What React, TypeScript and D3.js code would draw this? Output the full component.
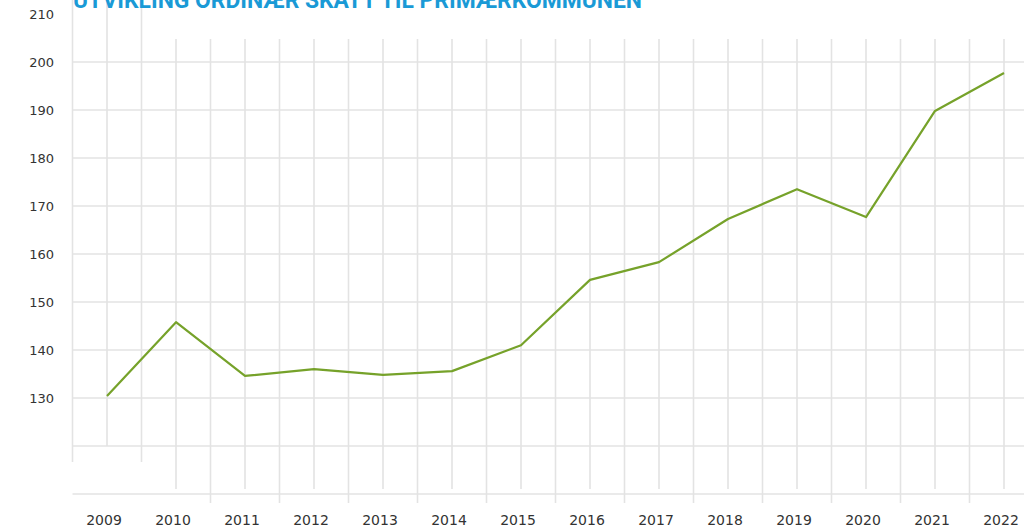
import React, { useEffect, useRef } from "react";
import * as d3 from "d3";

const years = [2009, 2010, 2011, 2012, 2013, 2014, 2015, 2016, 2017, 2018, 2019, 2020, 2021, 2022];
const skatt = [130.4, 145.8, 134.6, 136.0, 134.8, 135.6, 141.0, 154.6, 158.3, 167.3, 173.5, 167.7, 189.8, 197.7];
const yTicks = [130, 140, 150, 160, 170, 180, 190, 200, 210];
const gridValues = [110, 120, 130, 140, 150, 160, 170, 180, 190, 200];
const title = "UTVIKLING ORDINÆR SKATT TIL PRIMÆRKOMMUNEN";

const W = 1024;
const H = 528;

export default function App() {
  const ref = useRef<SVGSVGElement>(null);

  useEffect(() => {
    const svg = d3.select(ref.current);
    svg.selectAll("*").remove();

    const x = d3.scaleLinear().domain([2009, 2022]).range([107, 1004]);
    const y = d3.scaleLinear().domain([110, 210]).range([494, 14]);
    const grid = "#e3e3e3";

    // vertical grid, every half year
    const halfYears = d3.range(2008.5, 2023, 0.5);
    svg.append("g")
      .selectAll("line")
      .data(halfYears)
      .enter()
      .append("line")
      .attr("x1", (d) => x(d))
      .attr("x2", (d) => x(d))
      .attr("y1", (d) => (d < 2010 ? 0 : 39))
      .attr("y2", (d) => {
        if (d === 2009) return y(120);
        if (d < 2010) return 462;
        return Number.isInteger(d) ? 489 : 503;
      })
      .attr("stroke", grid)
      .attr("stroke-width", 1.6);

    // horizontal grid
    svg.append("g")
      .selectAll("line")
      .data(gridValues)
      .enter()
      .append("line")
      .attr("x1", x(2008.5))
      .attr("x2", W)
      .attr("y1", (d) => y(d))
      .attr("y2", (d) => y(d))
      .attr("stroke", grid)
      .attr("stroke-width", 1.6);

    // y labels
    svg.append("g")
      .selectAll("text")
      .data(yTicks)
      .enter()
      .append("text")
      .attr("x", 54)
      .attr("y", (d) => y(d) + 5)
      .attr("text-anchor", "end")
      .attr("font-family", "DejaVu Sans, sans-serif")
      .attr("font-size", 13)
      .attr("fill", "#333")
      .text((d) => d);

    // x labels
    svg.append("g")
      .selectAll("text")
      .data(years)
      .enter()
      .append("text")
      .attr("x", (d) => x(d) - 3)
      .attr("y", 525)
      .attr("text-anchor", "middle")
      .attr("font-family", "DejaVu Sans, sans-serif")
      .attr("font-size", 14)
      .attr("fill", "#333")
      .text((d) => d);

    const line = d3.line<number>()
      .x((d, i) => x(years[i]))
      .y((d) => y(d));

    svg.append("path")
      .datum(skatt)
      .attr("d", line)
      .attr("fill", "none")
      .attr("stroke", "#76a22a")
      .attr("stroke-width", 2.2)
      .attr("stroke-linejoin", "round");

    svg.append("text")
      .attr("x", 73)
      .attr("y", 8)
      .attr("font-family", "Roboto, sans-serif")
      .attr("font-weight", "bold")
      .attr("font-size", 24)
      .attr("textLength", 569)
      .attr("lengthAdjust", "spacingAndGlyphs")
      .attr("fill", "#1a9ad6")
      .text(title);
  }, []);

  return (
    <svg
      ref={ref}
      width={W}
      height={H}
      style={{ position: "absolute", left: 0, top: 0, display: "block", background: "#fff" }}
    />
  );
}
